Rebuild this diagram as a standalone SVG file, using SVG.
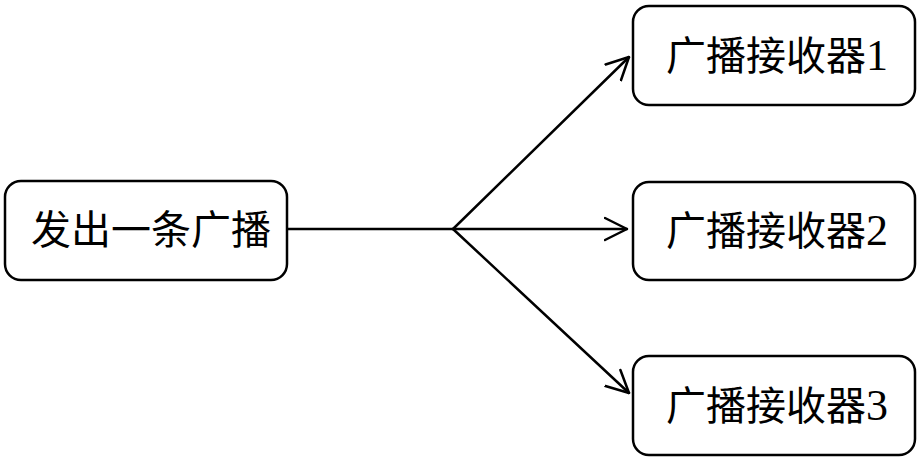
<svg xmlns="http://www.w3.org/2000/svg" width="921" height="461" viewBox="0 0 921 461">
<style>
.box{fill:#fff;stroke:#000;stroke-width:2.5}
.lbl{font-family:"Liberation Serif","Noto Sans CJK SC",serif;font-size:40px;fill:#000}
.num{font-size:44px}
.conn{fill:none;stroke:#000;stroke-width:2.5;stroke-linecap:round;stroke-linejoin:round}
</style>
<defs>
<marker id="arr" viewBox="0 0 24 26" refX="23" refY="13" markerWidth="24" markerHeight="26" markerUnits="userSpaceOnUse" orient="auto">
<path d="M1,2 L23,13 L1,24" fill="none" stroke="#000" stroke-width="2.5" stroke-linecap="round" stroke-linejoin="round"/>
</marker>
</defs>
<rect width="921" height="461" fill="#fff"/>
<g id="connectors">
<path class="conn" d="M287,229 L453,229"/>
<path class="conn" d="M453,229 L629,57" marker-end="url(#arr)"/>
<path class="conn" d="M453,229 L627,229" marker-end="url(#arr)"/>
<path class="conn" d="M453,229 L629,393" marker-end="url(#arr)"/>
</g>
<g id="source">
<rect class="box" x="5" y="181" width="282" height="99" rx="16"/>
<text class="lbl" x="31" y="244">发出一条广播</text>
</g>
<g id="receiver1">
<rect class="box" x="633" y="6" width="282" height="99" rx="16"/>
<text class="lbl" x="666" y="70">广播接收器<tspan class="num">1</tspan></text>
</g>
<g id="receiver2">
<rect class="box" x="633" y="182" width="282" height="98" rx="16"/>
<text class="lbl" x="666" y="245">广播接收器<tspan class="num">2</tspan></text>
</g>
<g id="receiver3">
<rect class="box" x="633" y="356" width="282" height="99" rx="16"/>
<text class="lbl" x="666" y="420">广播接收器<tspan class="num">3</tspan></text>
</g>
</svg>
